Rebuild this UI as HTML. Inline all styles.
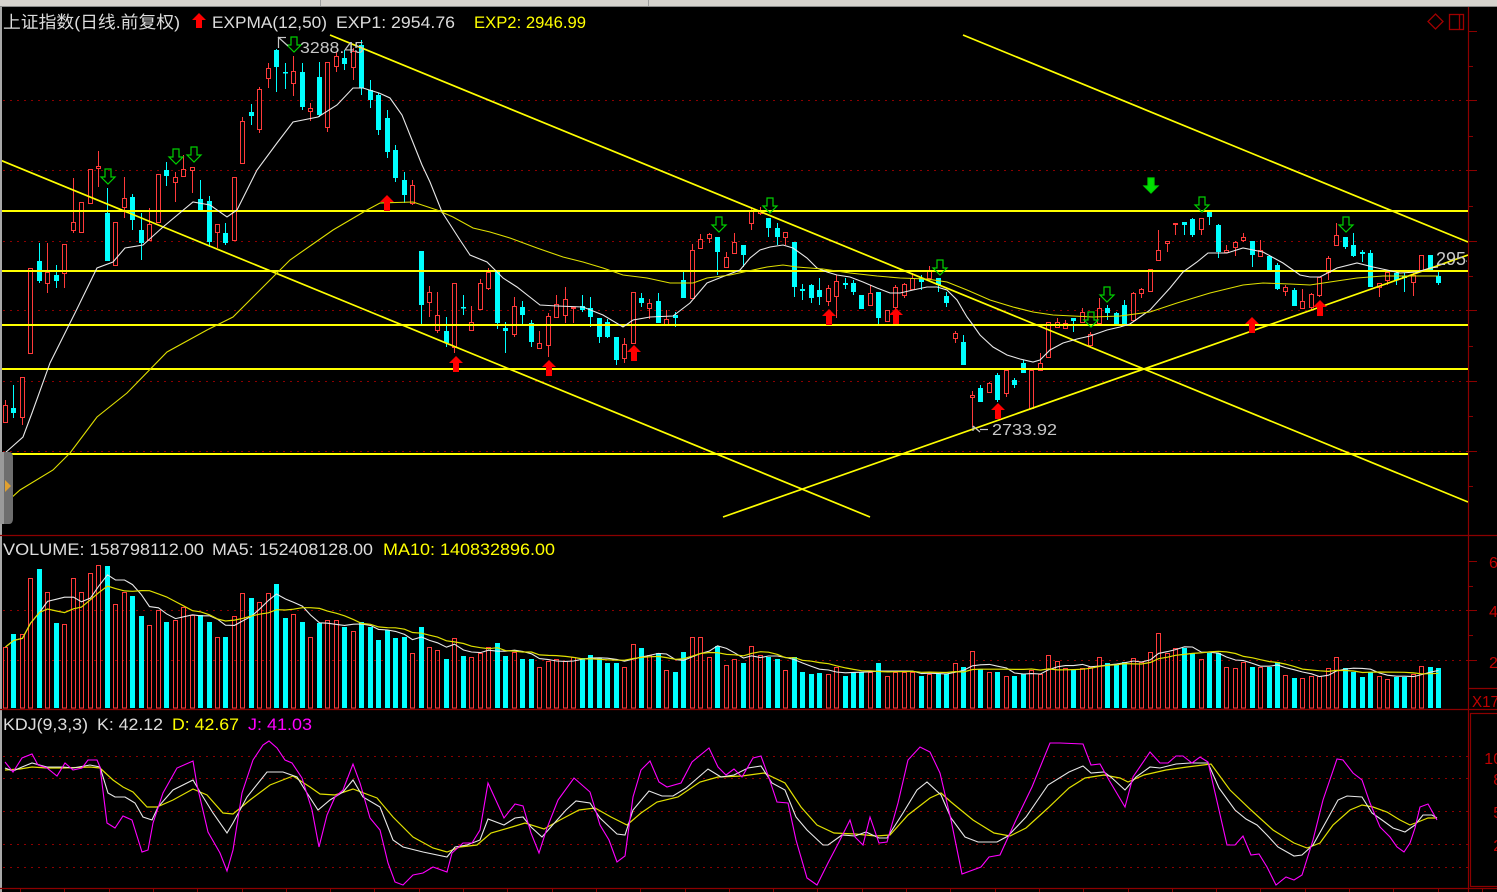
<!DOCTYPE html>
<html><head><meta charset="utf-8"><style>
html,body{margin:0;padding:0;background:#000;overflow:hidden;}
svg{display:block;}
text{font-family:"Liberation Sans","Noto Sans CJK SC",sans-serif;}
</style></head><body>
<svg id="s" width="1497" height="892" viewBox="0 0 1497 892" xmlns="http://www.w3.org/2000/svg">
<defs>
<clipPath id="cm"><rect x="2" y="7" width="1466" height="528"/></clipPath>
<clipPath id="cv"><rect x="2" y="536" width="1466" height="173"/></clipPath>
<clipPath id="ck"><rect x="2" y="711" width="1466" height="177"/></clipPath>
</defs>
<rect width="1497" height="892" fill="#000"/>
<rect x="0" y="0" width="1497" height="7" fill="#d6d3ce"/>
<line x1="0" y1="6.5" x2="1497" y2="6.5" stroke="#8a8a8a"/>
<line x1="320.5" y1="0" x2="320.5" y2="6" stroke="#a0a0a0"/>
<line x1="648.5" y1="0" x2="648.5" y2="6" stroke="#a0a0a0"/>
<rect x="0" y="7" width="2" height="885" fill="#a8a8a8"/>
<g stroke="#8c0000" stroke-dasharray="2 5" stroke-width="1">
<line x1="3" y1="100.5" x2="1468" y2="100.5"/><line x1="3" y1="170.5" x2="1468" y2="170.5"/>
<line x1="3" y1="241.5" x2="1468" y2="241.5"/><line x1="3" y1="310.5" x2="1468" y2="310.5"/>
<line x1="3" y1="381.5" x2="1468" y2="381.5"/><line x1="3" y1="451.5" x2="1468" y2="451.5"/>
<line x1="3" y1="610.5" x2="1468" y2="610.5"/><line x1="3" y1="660.5" x2="1468" y2="660.5"/>
<line x1="3" y1="756.5" x2="1468" y2="756.5"/><line x1="3" y1="778.5" x2="1468" y2="778.5"/>
<line x1="3" y1="811.5" x2="1468" y2="811.5"/><line x1="3" y1="844.5" x2="1468" y2="844.5"/>
<line x1="3" y1="867.5" x2="1468" y2="867.5"/>
</g>
<g stroke="#8c0000" stroke-width="1.2">
<line x1="0" y1="535.5" x2="1497" y2="535.5"/>
<line x1="0" y1="709.5" x2="1497" y2="709.5"/>
<line x1="0" y1="888.5" x2="1497" y2="888.5"/>
<line x1="1468.5" y1="7" x2="1468.5" y2="892"/>
<line x1="1468" y1="688.5" x2="1497" y2="688.5"/>
<rect x="1470.5" y="713.5" width="40" height="173" fill="none"/>
</g>
<g id="ticks" stroke="#8c0000"></g>
<g fill="#c00000" font-size="16">
<text x="1489" y="568">6</text><text x="1489" y="617">4</text><text x="1489" y="668">2</text>
<text x="1472" y="707" textLength="27" lengthAdjust="spacingAndGlyphs">X17</text>
<text x="1511" y="764" text-anchor="end">100</text><text x="1511" y="785" text-anchor="end">80</text>
<text x="1511" y="818" text-anchor="end">50</text><text x="1511" y="851" text-anchor="end">20</text>
</g>
<g fill="none" stroke="#a00000" stroke-width="1.3">
<polygon points="1435.5,14 1443,21.5 1435.5,29 1428,21.5"/>
<rect x="1449.5" y="14.5" width="14" height="15"/>
<line x1="1459.5" y1="14" x2="1459.5" y2="30"/>
</g>
<g id="main" clip-path="url(#cm)"></g>
<g id="vol" clip-path="url(#cv)"></g>
<g id="kdj" clip-path="url(#ck)"></g>
<path d="M0,452 L9,452 Q13,452 13,458 L13,518 Q13,524 9,524 L0,524 Z" fill="#6e6e6e"/>
<path d="M0,452 L4,452 L4,524 L0,524 Z" fill="#9a9a9a"/>
<polygon points="5,480 11,486 5,492" fill="#e0a030"/>
<g font-size="17" fill="#dcdcdc">
<text x="3" y="28" textLength="177" lengthAdjust="spacingAndGlyphs">上证指数(日线.前复权)</text>
<text x="212" y="28" textLength="115" lengthAdjust="spacingAndGlyphs">EXPMA(12,50)</text>
<text x="336" y="28" textLength="119" lengthAdjust="spacingAndGlyphs">EXP1: 2954.76</text>
<text x="474" y="28" fill="#ffff00" textLength="112" lengthAdjust="spacingAndGlyphs">EXP2: 2946.99</text>
<text x="3" y="555" textLength="201" lengthAdjust="spacingAndGlyphs">VOLUME: 158798112.00</text>
<text x="212" y="555" textLength="161" lengthAdjust="spacingAndGlyphs">MA5: 152408128.00</text>
<text x="383" y="555" fill="#ffff00" textLength="172" lengthAdjust="spacingAndGlyphs">MA10: 140832896.00</text>
<text x="3" y="730" textLength="85" lengthAdjust="spacingAndGlyphs">KDJ(9,3,3)</text>
<text x="97" y="730" textLength="66" lengthAdjust="spacingAndGlyphs">K: 42.12</text>
<text x="172" y="730" fill="#ffff00" textLength="67" lengthAdjust="spacingAndGlyphs">D: 42.67</text>
<text x="248" y="730" fill="#ff00ff" textLength="64" lengthAdjust="spacingAndGlyphs">J: 41.03</text>
</g>
<polygon points="199,13 206,20 202,20 202,28 196,28 196,20 192,20" fill="#ff0000"/>
<g id="labels" font-size="16" fill="#c8c8c8">
<text x="300" y="53" textLength="64" lengthAdjust="spacingAndGlyphs">3288.45</text>
<text x="992" y="435" textLength="65" lengthAdjust="spacingAndGlyphs">2733.92</text>
</g>
<g stroke="#c8c8c8" stroke-width="1.2">
<line x1="278.5" y1="37" x2="278.5" y2="48"/><line x1="278" y1="37.5" x2="286" y2="37.5"/><line x1="278" y1="37" x2="288" y2="46"/>
<line x1="973" y1="426" x2="980" y2="432"/><line x1="973" y1="426.5" x2="973" y2="431"/><line x1="980" y1="429.5" x2="988" y2="429.5"/>
</g>
<svg x="0" y="0" width="1467" height="535"><text x="1436" y="265" font-size="18" fill="#c8c8c8">2954.76</text></svg>
</svg>
<script>
(function(){
var NS="http://www.w3.org/2000/svg";
function add(p,t,a){var e=document.createElementNS(NS,t);for(var k in a)e.setAttribute(k,a[k]);p.appendChild(e);return e;}
function pl(p,pts,col,w){add(p,'polyline',{points:pts.map(function(q){return q[0]+','+q[1];}).join(' '),fill:'none',stroke:col,'stroke-width':w||1});}
function P(s){var a=s.split(/[ ,]+/).map(Number),r=[];for(var i=0;i+1<a.length;i+=2)r.push([a[i],a[i+1]]);return r;}
var RED="#ff3a3a",CY="#00ffff",YEL="#ffff00",CE={'shape-rendering':'crispEdges'};
function ce(o){o['shape-rendering']='crispEdges';return o;}
var main=document.getElementById('main'),vol=document.getElementById('vol'),kdj=document.getElementById('kdj'),tk=document.getElementById('ticks');
var C="r,405,422,400,422|c,408,413,385,418|r,377,417,377,425|r,268,353,268,353|c,261,281,243,283|r,272,283,243,293|c,275,281,265,288|r,244,273,244,288|r,222,230,178,233|r,202,232,202,233|r,169,203,169,203|r,166,168,151,187|c,213,261,188,261|r,222,265,222,265|r,198,207,177,218|c,197,220,194,230|c,230,243,213,260|r,224,240,208,240|r,174,222,174,222|c,170,176,162,186|r,177,182,172,202|r,169,176,155,176|r,167,170,167,193|c,199,210,180,210|c,201,242,196,247|r,224,232,224,248|c,233,243,223,245|r,177,240,177,240|r,121,163,117,163|c,112,116,104,125|r,89,129,87,133|r,68,78,63,88|c,50,67,49,92|c,72,73,63,89|r,71,83,56,96|c,72,107,63,110|r,108,111,103,121|c,77,115,62,117|r,62,127,62,132|r,56,66,52,72|c,58,64,50,70|r,51,67,48,80|c,45,88,40,95|c,90,100,80,108|c,95,130,93,135|c,118,152,110,158|c,150,178,145,182|c,180,195,172,203|r,185,203,180,205|c,251,305,251,325|r,292,302,286,317|r,315,330,292,333|c,331,343,317,347|r,283,347,283,353|c,307,308,295,315|r,322,330,306,330|r,283,309,279,309|r,272,288,268,290|c,272,323,272,329|c,328,331,322,353|r,306,334,297,337|c,307,315,301,325|c,323,342,320,347|r,343,348,331,348|r,316,345,313,357|r,304,317,295,317|r,299,315,287,323|r,307,308,307,323|c,306,310,295,312|c,308,317,297,327|c,318,337,318,343|c,322,337,319,338|c,337,360,337,365|r,344,358,338,363|r,292,343,292,343|c,298,303,293,307|r,303,308,299,319|c,301,323,293,323|r,319,324,310,324|c,315,318,312,327|c,280,298,272,298|r,250,298,244,298|r,239,248,234,248|r,234,238,233,243|c,237,252,237,275|r,257,267,252,268|r,242,253,233,253|c,245,255,245,267|r,210,223,208,230|r,210,213,207,215|c,218,228,218,237|c,228,237,223,245|r,232,237,232,245|c,242,287,242,297|c,289,291,284,300|c,285,298,284,303|c,290,297,278,305|r,288,301,285,306|r,281,296,275,318|c,283,285,278,289|c,283,292,280,295|c,295,309,295,309|r,293,305,285,305|c,292,318,292,325|r,310,321,310,321|r,287,307,285,323|r,284,295,283,298|r,278,289,273,290|c,278,282,275,290|r,270,278,266,278|c,278,285,278,292|c,296,303,292,307|r,333,338,331,343|c,342,365,335,365|r,395,397,391,427|c,388,402,385,402|r,383,392,382,392|c,375,400,373,402|r,370,393,370,397|c,380,385,378,388|c,363,373,360,373|r,370,408,370,408|r,363,370,353,370|r,322,357,322,358|r,322,327,318,327|r,323,328,320,328|c,318,321,318,332|r,312,322,308,323|r,334,345,332,347|r,308,323,298,323|c,308,313,305,320|c,313,324,312,325|c,305,325,300,325|r,293,320,292,322|r,289,293,288,298|r,269,291,269,291|r,250,260,230,260|r,241,243,241,252|r,223,224,223,235|c,222,225,222,235|c,219,235,218,237|r,218,229,218,235|c,212,217,212,225|c,225,252,224,258|r,250,252,245,252|r,242,247,241,256|r,237,240,233,242|c,241,255,241,267|r,250,256,240,257|c,256,270,256,270|c,265,289,263,290|r,287,291,285,296|c,290,306,288,306|r,301,308,289,308|r,294,307,293,310|r,277,295,277,297|r,258,272,256,280|r,235,245,223,245|c,237,247,237,249|c,245,256,233,257|c,252,254,250,262|c,253,287,250,287|r,283,287,283,297|r,272,280,272,285|c,273,280,272,285|c,276,278,273,292|r,275,282,273,296|r,255,270,255,270|c,255,270,255,270|c,276,283,272,285";
var cand=C.split('|').map(function(s){var p=s.split(',');return [p[0],+p[1],+p[2],+p[3],+p[4]];});
var V="647,634,634,578,569,592,623,624,578,592,573,565,566,604,592,596,616,625,610,622,620,607,615,615,622,637,637,616,593,598,602,593,584,618,614,622,637,623,620,620,627,631,622,627,640,630,638,637,653,627,647,650,659,638,656,657,653,647,643,656,652,659,659,667,661,659,661,657,658,655,658,663,663,667,644,648,655,653,670,672,652,637,637,657,646,665,659,663,646,655,657,659,670,657,672,674,673,674,667,676,672,672,672,663,676,672,672,672,676,674,674,674,663,667,651,669,672,672,676,676,674,670,674,655,661,668,670,668,667,657,663,665,662,658,662,652,633,653,648,648,653,659,653,653,667,668,662,667,667,667,662,675,678,678,676,676,668,657,668,672,677,672,676,679,677,677,674,666,667,668".split(',').map(Number);
function X(i){return Math.round(5+8.48*i);}
cand.forEach(function(d,i){
 var x=X(i),c=d[0],bt=d[1],bb=d[2],wt=d[3],wb=d[4];
 if(c==='r'){
  if(wt<bt)add(main,'line',ce({x1:x+0.5,y1:wt,x2:x+0.5,y2:bt,stroke:RED}));
  if(wb>bb)add(main,'line',ce({x1:x+0.5,y1:bb,x2:x+0.5,y2:wb,stroke:RED}));
  add(main,'rect',ce({x:x-1.5,y:bt+0.5,width:4,height:Math.max(bb-bt,1),fill:'#000',stroke:RED}));
 }else{
  add(main,'line',ce({x1:x+0.5,y1:wt,x2:x+0.5,y2:wb,stroke:CY}));
  add(main,'rect',ce({x:x-2,y:bt,width:5,height:Math.max(bb-bt,1.5),fill:CY}));
 }
});
[211,271,325,369,454].forEach(function(y){add(main,'line',{x1:2,y1:y,x2:1468,y2:y,stroke:YEL,'stroke-width':1.9});});
[[0,160,870,517],[330,35,1468,502],[963,35,1468,242],[723,517,1468,255]].forEach(function(l){add(main,'line',{x1:l[0],y1:l[1],x2:l[2],y2:l[3],stroke:YEL,'stroke-width':1.7});});
pl(main,P("5,453 23,437 32,413 50,363 75,313 97,268 113,262 125,248 143,245 163,227 193,202 210,205 227,217 237,210 257,170 277,143 293,122 318,117 337,105 353,88 363,88 379,93 390,98 402,115 412,140 422,165 430,182 442,212 460,240 470,255 487,262 503,278 517,287 540,305 557,306 583,307 603,315 623,327 633,320 650,317 673,316 690,303 707,283 727,275 740,270 750,258 760,250 770,247 783,245 793,248 807,258 817,268 827,272 837,275 850,277 863,282 877,288 890,293 900,293 913,290 927,287 937,287 947,290 957,300 967,317 973,325 980,335 993,347 1007,355 1020,359 1033,362 1040,360 1050,350 1063,343 1077,339 1090,336 1107,330 1120,327 1130,324 1150,310 1170,288 1183,272 1197,262 1208,253 1227,253 1243,248 1263,252 1283,263 1300,275 1310,277 1320,277 1337,268 1357,263 1373,267 1387,270 1400,273 1417,272 1430,268 1438,267"),"#e8e8e8",1.1);
pl(main,P("0,508 20,490 53,470 70,453 97,417 127,393 167,352 207,330 233,317 267,283 290,260 333,230 367,210 380,203 413,202 437,210 453,217 473,228 490,232 510,238 537,248 563,257 583,262 603,268 623,275 647,278 670,283 693,283 707,278 730,275 753,270 767,267 783,265 797,267 823,269 850,273 877,276 900,278 927,279 947,282 967,290 990,300 1013,307 1033,312 1053,315 1073,316 1093,317 1120,316 1150,312 1177,303 1210,293 1243,285 1263,283 1290,284 1310,285 1330,282 1357,278 1383,276 1410,276 1438,276"),"#e0e000",1.1);
function up(cx,ty){add(main,'polygon',{points:[cx,ty,cx+7,ty+7,cx+3,ty+7,cx+3,ty+16,cx-3,ty+16,cx-3,ty+7,cx-7,ty+7].join(','),fill:'#ff0000'});}
function dn(cx,ty,f){add(main,'polygon',{points:[cx-3,ty,cx+3,ty,cx+3,ty+8,cx+7,ty+8,cx,ty+15,cx-7,ty+8,cx-3,ty+8].join(','),fill:f?'#00e000':'none',stroke:'#00d000','stroke-width':1.2});}
[[387,195],[456,356],[549,360],[634,345],[829,309],[896,308],[998,403],[1252,317],[1320,300]].forEach(function(a){up(a[0],a[1]);});
[[108,169],[176,149],[194,147],[294,37],[719,217],[770,198],[940,260],[1091,312],[1107,287],[1202,197],[1346,217]].forEach(function(a){dn(a[0],a[1],false);});
dn(1151,178,true);
var h=V.map(function(t){return 708-t;});
cand.forEach(function(d,i){
 var x=X(i),t=V[i];
 if(d[0]==='r')add(vol,'rect',ce({x:x-1.5,y:t+0.5,width:4,height:708-t-0.5,fill:'none',stroke:RED}));
 else add(vol,'rect',ce({x:x-2,y:t,width:5,height:708-t,fill:CY}));
});
function ma(n){return h.map(function(v,i){var s=0,c=0;for(var j=Math.max(0,i-n+1);j<=i;j++){s+=h[j];c++;}return [X(i)+0.5,+(708-s/c).toFixed(1)];});}
pl(vol,ma(5),"#e8e8e8",1.1);
pl(vol,ma(10),"#e0e000",1.2);
pl(kdj,P("5,770 20,769 32,767 47,768 63,768 90,767 100,768 113,780 123,787 133,792 147,807 157,807 173,800 193,789 207,795 223,813 233,814 250,800 270,785 293,776 310,787 320,794 335,795 353,789 377,798 393,817 413,837 433,848 447,852 460,847 477,845 491,833 512,827 525,823 544,829 560,820 579,810 595,808 611,817 627,825 641,813 657,802 678,797 700,782 718,777 742,776 764,773 785,783 801,807 817,825 834,833 855,834 876,836 890,835 908,815 930,798 941,793 951,802 973,820 994,833 1010,836 1026,828 1048,808 1069,788 1085,778 1104,775 1120,778 1128,782 1144,775 1166,770 1187,767 1211,764 1230,790 1251,810 1273,830 1294,843 1307,848 1320,843 1333,825 1350,810 1362,805 1373,807 1387,812 1400,820 1410,825 1418,822 1428,818 1437,818"),"#e0e000",1.2);
pl(kdj,P("5,768 13,771 22,767 32,763 47,767 63,767 73,768 90,765 100,767 108,793 115,797 125,797 135,803 143,817 152,820 158,807 173,790 193,780 200,792 213,813 227,833 233,823 247,797 267,772 283,772 297,777 307,793 318,810 330,800 343,792 353,780 363,797 380,807 393,840 403,847 423,852 447,857 455,847 467,845 480,840 488,819 504,825 515,818 523,817 531,827 542,837 550,828 566,810 576,801 590,803 600,818 617,834 625,835 633,810 649,791 662,796 673,796 686,788 708,769 721,777 734,775 748,768 761,766 772,783 785,790 796,817 807,830 823,845 828,845 842,835 855,836 866,832 879,838 887,838 903,813 917,790 927,782 941,795 951,818 965,837 978,842 997,842 1008,836 1026,817 1048,785 1069,772 1083,766 1091,773 1104,772 1112,778 1125,790 1136,777 1150,767 1160,768 1176,764 1190,763 1208,763 1219,788 1235,810 1246,819 1257,825 1267,835 1278,847 1294,856 1302,855 1313,845 1327,820 1338,800 1347,796 1362,797 1372,813 1382,820 1393,828 1405,832 1415,825 1423,815 1432,815 1437,818"),"#e8e8e8",1.1);
pl(kdj,P("5,762 13,772 22,758 32,754 38,765 47,768 57,776 65,763 73,770 82,768 88,760 97,760 100,767 107,823 115,828 123,816 132,820 142,852 148,850 153,823 163,793 177,768 193,761 197,785 208,832 220,853 227,871 233,850 242,793 253,760 263,745 269,741 277,748 285,760 292,763 302,778 312,810 319,847 327,815 335,797 343,790 353,764 360,783 370,818 380,830 388,863 395,882 403,885 413,875 423,873 433,867 447,872 452,853 463,843 472,843 480,830 488,783 504,818 515,804 523,806 531,833 539,853 547,828 558,800 574,778 590,792 600,825 609,840 617,862 625,856 633,797 641,770 650,761 659,782 667,787 681,783 692,762 709,748 718,767 726,775 734,769 742,777 753,758 761,756 769,778 777,802 788,803 796,840 807,878 817,885 828,863 839,842 850,820 855,837 863,845 870,817 879,843 887,842 898,803 908,760 920,747 930,752 940,773 951,820 962,874 981,867 989,857 1000,855 1016,820 1032,787 1050,743 1060,743 1083,744 1091,765 1100,764 1109,780 1125,807 1133,777 1150,752 1160,763 1168,763 1176,756 1183,756 1192,763 1200,757 1208,762 1216,797 1227,845 1235,845 1243,836 1251,855 1259,854 1267,867 1276,885 1286,877 1294,880 1302,875 1313,840 1323,800 1337,759 1343,760 1353,773 1362,780 1370,803 1380,827 1390,837 1397,847 1404,852 1410,843 1415,828 1420,807 1428,804 1437,820"),"#ff00ff",1.1);
[31,100,170,241,310,381,451,561,610,660].forEach(function(y){add(tk,'line',{x1:1468,y1:y+0.5,x2:1477,y2:y+0.5});});
[66,136,206,276,346,416,486,586,635].forEach(function(y){add(tk,'line',{x1:1468,y1:y+0.5,x2:1473,y2:y+0.5});});
for(var k=0;k<34;k++){var bx=Math.round(20+44.3*k)+0.5;add(tk,'line',{x1:bx,y1:888,x2:bx,y2:892});}
})();
</script>
</body></html>
